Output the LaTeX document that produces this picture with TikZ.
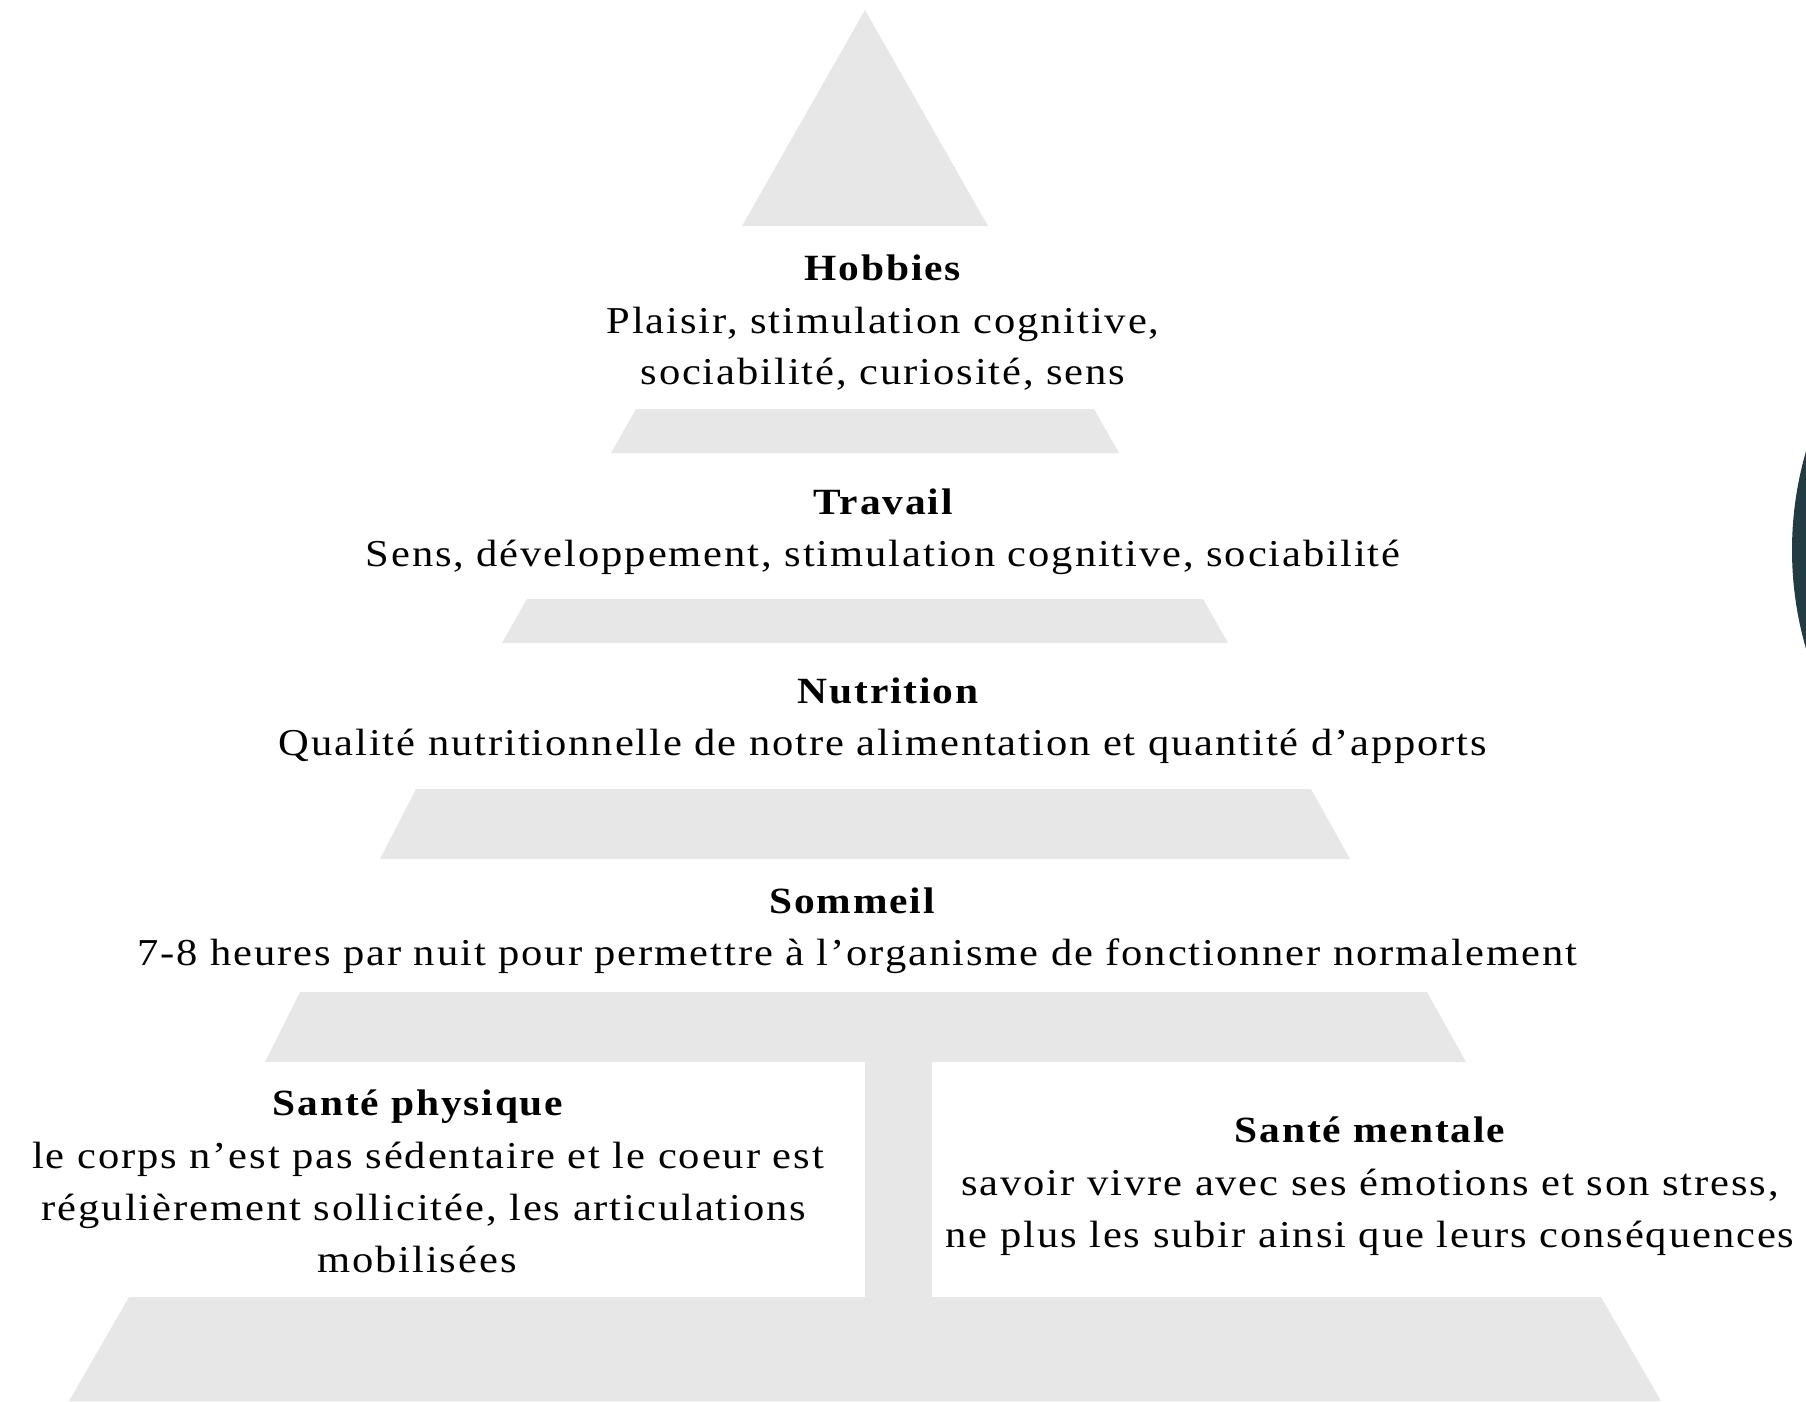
\documentclass[tikz,border=0pt]{standalone}
\usepackage{fontspec}
\setmainfont{Liberation Serif}[FakeStretch=1.12,LetterSpace=5]
\definecolor{pyrgray}{RGB}{231,231,231}
\definecolor{darkteal}{RGB}{33,60,66}
\begin{document}
\begin{tikzpicture}[x=1pt,y=-1pt,
  tier/.style={fill=pyrgray},
  ttl/.style={anchor=base,inner sep=0pt,font=\fontsize{37}{40}\selectfont\bfseries},
  bodytxt/.style={anchor=base,inner sep=0pt,font=\fontsize{38}{40}\selectfont}]
\useasboundingbox (0,0) rectangle (1806,1401);
\clip (0,0) rectangle (1806,1401);
% pyramid tiers
\fill[tier] (865,10) -- (988,226) -- (742,226) -- cycle;
\fill[tier] (636,409) -- (1094,409) -- (1119,453) -- (611,453) -- cycle;
\fill[tier] (527,599) -- (1203,599) -- (1228,643) -- (502,643) -- cycle;
\fill[tier] (416,789) -- (1311,789) -- (1350,859) -- (380,859) -- cycle;
\fill[tier] (300,992) -- (1427,992) -- (1466,1062) -- (265,1062) -- cycle;
\fill[tier] (865,1062) rectangle (932,1297);
\fill[tier] (129,1297) -- (1601,1297) -- (1661,1401) -- (69,1401) -- cycle;
% circle at right edge
\fill[darkteal] (2145,550) circle (353);
% texts
\node[ttl] (hobT) at (883,280) {Hobbies};
\node[bodytxt] (hob1) at (883,333) {Plaisir, stimulation cognitive,};
\node[bodytxt] (hob2) at (883,384) {sociabilité, curiosité, sens};
\node[ttl] (travT) at (883,514) {Travail};
\node[bodytxt] (trav1) at (883,566) {Sens, développement, stimulation cognitive, sociabilité};
\node[ttl] (nutT) at (888,703) {Nutrition};
\node[bodytxt] (nut1) at (883,755) {Qualité nutritionnelle de notre alimentation et quantité d’apports};
\node[ttl] (somT) at (852,913) {Sommeil};
\node[bodytxt] (som1) at (857,965) {7-8 heures par nuit pour permettre à l’organisme de fonctionner normalement};
\node[ttl] (physT) at (418,1115) {Santé physique};
\node[bodytxt] (phys1) at (428,1168) {le corps n’est pas sédentaire et le coeur est};
\node[bodytxt] (phys2) at (424,1220) {régulièrement sollicitée, les articulations};
\node[bodytxt] (phys3) at (417,1272) {mobilisées};
\node[ttl] (mentT) at (1370,1142) {Santé mentale};
\node[bodytxt] (ment1) at (1370,1195) {savoir vivre avec ses émotions et son stress,};
\node[bodytxt] (ment2) at (1370,1247) {ne plus les subir ainsi que leurs conséquences};
\end{tikzpicture}
\end{document}
